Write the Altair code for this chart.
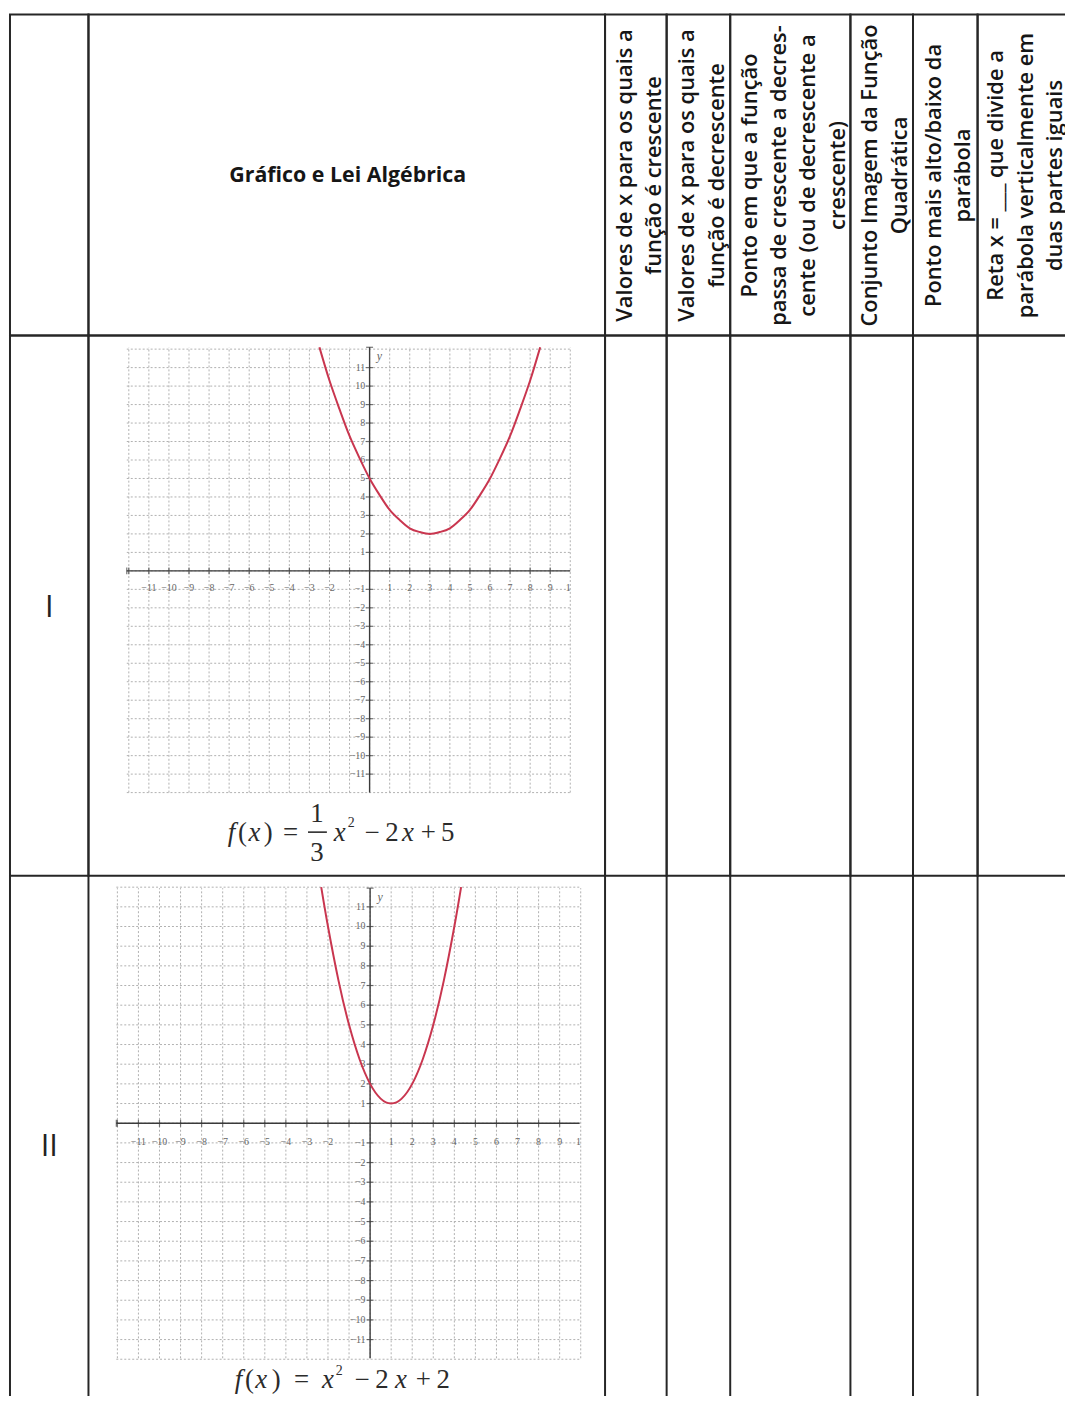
import altair as alt
import pandas as pd

# ------------------------------------------------------------------ data
ROW_LABELS = ["I", "II"]
TITLE_TEXT = "Gráfico e Lei Algébrica"
HEADERS = [
    "Valores de x para os quais a\nfunção é crescente",
    "Valores de x para os quais a\nfunção é decrescente",
    "Ponto em que a função\npassa de crescente a decres-\ncente (ou de decrescente a\ncrescente)",
    "Conjunto Imagem da Função\nQuadrática",
    "Ponto mais alto/baixo da\nparábola",
    "Reta x = ___ que divide a\nparábola verticalmente em\nduas partes iguais",
]

G1_X = [-2.5, -2.0, -1.5, -1.0, -0.5, 0.0, 0.5, 1.0, 1.5, 2.0, 2.5, 3.0,
        3.5, 4.0, 4.5, 5.0, 5.5, 6.0, 6.5, 7.0, 7.5, 8.0, 8.5]
G1_Y = [12.1, 10.3, 8.75, 7.3, 6.1, 5.0, 4.1, 3.3, 2.75, 2.3, 2.1, 2.0,
        2.1, 2.3, 2.75, 3.3, 4.1, 5.0, 6.1, 7.3, 8.75, 10.3, 12.1]
G2_X = [-2.32, -2.0, -1.5, -1.0, -0.5, 0.0, 0.5, 1.0, 1.5, 2.0, 2.5, 3.0, 3.5, 4.0, 4.32]
G2_Y = [12.0, 10.0, 7.25, 5.0, 3.25, 2.0, 1.25, 1.0, 1.25, 2.0, 3.25, 5.0, 7.25, 10.0, 12.0]

GRID_X = list(range(-12, 11))
GRID_Y = list(range(-12, 13))
X_TICKS = [-12, -11, -10, -9, -8, -7, -6, -5, -4, -3, -2, -1, 1, 2, 3, 4, 5, 6, 7, 8, 9]
Y_TICKS = [-11, -10, -9, -8, -7, -6, -5, -4, -3, -2, -1, 1, 2, 3, 4, 5, 6, 7, 8, 9, 10, 11]
X_LABEL_VALUES = [-11, -10, -9, -8, -7, -6, -5, -4, -3, -2, 1, 2, 3, 4, 5, 6, 7, 8, 9, 9.9]
X_LABEL_TEXT = ["−11", "−10", "−9", "−8", "−7", "−6", "−5", "−4", "−3", "−2",
                "1", "2", "3", "4", "5", "6", "7", "8", "9", "1"]
Y_LABEL_VALUES = [11, 10, 9, 8, 7, 6, 5, 4, 3, 2, 1, -1, -2, -3, -4, -5, -6, -7, -8, -9, -10, -11]
Y_LABEL_TEXT = ["11", "10", "9", "8", "7", "6", "5", "4", "3", "2", "1", "−1", "−2", "−3",
                "−4", "−5", "−6", "−7", "−8", "−9", "−10", "−11"]

FORMULA_1 = ["f", "(", "x", ")", "=", "1", "3", "x", "2", "−", "2", "x", "+", "5"]
FORMULA_2 = ["f", "(", "x", ")", "=", "x", "2", "−", "2", "x", "+", "2"]

# ------------------------------------------------------------------ layout / style
COL_W = [79, 520, 62, 64, 121, 63, 65, 90]
ROW_H = [323, 544, 537]
LINE = "#262626"
SW = 2
GRID = "#b0b0b0"
AXC = "#3a3a3a"
LABC = "#666666"
RED = "#c9364f"
SANS = "Open Sans"
SERIF = "Liberation Serif"
LH = 29.5

boxed = alt.ViewBackground(stroke=LINE, strokeWidth=SW)
openv = alt.ViewBackground(stroke="transparent", strokeWidth=0)
one = pd.DataFrame({"k": [0]})


def blank(w, h):
    return alt.Chart(one).mark_text(text="", fontSize=1).encode(
        x=alt.value(w / 2), y=alt.value(h / 2))


def left_edge(h):
    return alt.Chart(one).mark_rule(color=LINE, strokeWidth=SW).encode(
        x=alt.value(0), y=alt.value(0), y2=alt.value(h))


def empty_cell(w, h, edged=False):
    if edged:
        return alt.layer(blank(w, h), left_edge(h)).properties(width=w, height=h, view=openv)
    return blank(w, h).properties(width=w, height=h, view=boxed)


def header_cell(w, h, text):
    lines = text.split("\n")
    n = len(lines)
    layers = []
    for i, ln in enumerate(lines):
        layers.append(alt.Chart(one).mark_text(
            text=ln, angle=270, align="center", baseline="middle",
            font=SANS, fontWeight=600, fontSize=22, color="#161616",
        ).encode(x=alt.value(w / 2 + 3.5 + (i - (n - 1) / 2) * LH), y=alt.value(h / 2 + 0.5)))
    return alt.layer(*layers).properties(width=w, height=h, view=boxed)


def title_cell(w, h):
    return alt.Chart(pd.DataFrame({"t": [TITLE_TEXT]})).mark_text(
        font=SANS, fontWeight=700, fontSize=21.5, color="#161616", align="center", baseline="middle",
    ).encode(x=alt.value(w / 2 + 1), y=alt.value(h / 2 + 1.5), text="t:N").properties(
        width=w, height=h, view=boxed)


def roman_cell(w, h, label, ypos, edged=False):
    t = alt.Chart(pd.DataFrame({"t": [label]})).mark_text(
        font=SANS, fontSize=31, color="#222222", align="center", baseline="middle",
    ).encode(x=alt.value(w / 2), y=alt.value(ypos), text="t:N")
    if edged:
        return alt.layer(t, left_edge(h)).properties(width=w, height=h, view=openv)
    return t.properties(width=w, height=h, view=boxed)


def formula_layers(pieces, layout, bar=None):
    out = []
    for txt, (px, py, style, size) in zip(pieces, layout):
        out.append(alt.Chart(one).mark_text(
            text=txt, font=SERIF, fontSize=size, fontStyle="italic" if style == "i" else "normal",
            color="#2b2b2b", align="center", baseline="alphabetic",
        ).encode(x=alt.value(px), y=alt.value(py)))
    if bar is not None:
        x1, x2, yb = bar
        out.append(alt.Chart(one).mark_rule(color="#2b2b2b", strokeWidth=1.6).encode(
            x=alt.value(x1), x2=alt.value(x2), y=alt.value(yb)))
    return out


def graph_cell(w, h, ox, oy, kx, ky, ext, cx, cy, flayers, view, edged=False):
    xs = alt.Scale(domain=[-ox / kx, (w - ox) / kx], nice=False, zero=False)
    ys = alt.Scale(domain=[-(h - oy) / ky, oy / ky], nice=False, zero=False)
    x_min, x_max, y_min, y_max = ext

    def X(f):
        return alt.X(f + ":Q", scale=xs, axis=None)

    def Y(f):
        return alt.Y(f + ":Q", scale=ys, axis=None)

    vgrid = alt.Chart(pd.DataFrame({"g": GRID_X, "a": y_min, "b": y_max})).mark_rule(
        color=GRID, strokeWidth=1, strokeDash=[2, 2]).encode(x=X("g"), y=Y("a"), y2="b:Q")
    hgrid = alt.Chart(pd.DataFrame({"g": GRID_Y, "a": x_min, "b": x_max})).mark_rule(
        color=GRID, strokeWidth=1, strokeDash=[2, 2]).encode(y=Y("g"), x=X("a"), x2="b:Q")
    xaxis = alt.Chart(pd.DataFrame({"a": [x_min], "b": [x_max], "z": [0]})).mark_rule(
        color=AXC, strokeWidth=1.4).encode(x=X("a"), x2="b:Q", y=Y("z"))
    yaxis = alt.Chart(pd.DataFrame({"a": [y_min], "b": [y_max], "z": [0]})).mark_rule(
        color=AXC, strokeWidth=1.4).encode(y=Y("a"), y2="b:Q", x=X("z"))
    xt = alt.Chart(pd.DataFrame({"t": X_TICKS + [x_min], "z": 0})).mark_tick(
        orient="vertical", size=7, thickness=1.2, color=AXC).encode(x=X("t"), y=Y("z"))
    yt = alt.Chart(pd.DataFrame({"t": Y_TICKS + [y_max], "z": 0})).mark_tick(
        orient="horizontal", size=7, thickness=1.2, color=AXC).encode(y=Y("t"), x=X("z"))
    xl = alt.Chart(pd.DataFrame({"v": X_LABEL_VALUES, "s": X_LABEL_TEXT, "p": -0.95})).mark_text(
        font=SERIF, fontSize=10, color=LABC, align="center", baseline="middle").encode(
        x=X("v"), y=Y("p"), text="s:N")
    yl = alt.Chart(pd.DataFrame({"v": Y_LABEL_VALUES, "s": Y_LABEL_TEXT, "p": -0.22})).mark_text(
        font=SERIF, fontSize=10, color=LABC, align="right", baseline="middle").encode(
        y=Y("v"), x=X("p"), text="s:N")
    ylab = alt.Chart(pd.DataFrame({"s": ["y"], "a": [0.35], "b": [y_max - 0.45]})).mark_text(
        font=SERIF, fontSize=12, fontStyle="italic", color=LABC, align="left", baseline="middle").encode(
        x=X("a"), y=Y("b"), text="s:N")
    curve = alt.Chart(pd.DataFrame({"cx": cx, "cy": cy})).mark_line(
        color=RED, strokeWidth=2, interpolate="natural").encode(x=X("cx"), y=Y("cy"))
    layers = [vgrid, hgrid, xaxis, yaxis, xt, yt, xl, yl, ylab, curve] + flayers
    if edged:
        layers.append(left_edge(h))
    return alt.layer(*layers).properties(width=w, height=h, view=view)


F1_LAYOUT = [(144, 509, "i", 27), (155, 509, "r", 27), (167, 509, "i", 27), (181, 509, "r", 27),
             (203.5, 509, "r", 27), (230, 490, "r", 27), (230, 529, "r", 27), (253, 509, "i", 27),
             (264.5, 495, "r", 14), (285.5, 509, "r", 27), (305.5, 509, "r", 27), (321.5, 509, "i", 27),
             (342, 509, "r", 27), (361.5, 509, "r", 27)]
F2_LAYOUT = [(151, 516, "i", 27), (162, 516, "r", 27), (174, 516, "i", 27), (189, 516, "r", 27),
             (214.5, 516, "r", 27), (241, 516, "i", 27), (252.5, 502, "r", 14), (275.5, 516, "r", 27),
             (295.5, 516, "r", 27), (314.5, 516, "i", 27), (337, 516, "r", 27), (357, 516, "r", 27)]

# ------------------------------------------------------------------ cells (row by row)
cells = [
    empty_cell(COL_W[0], ROW_H[0]),
    title_cell(COL_W[1], ROW_H[0]),
    *[header_cell(COL_W[i + 2], ROW_H[0], HEADERS[i]) for i in range(6)],

    roman_cell(COL_W[0], ROW_H[1], ROW_LABELS[0], 274),
    graph_cell(COL_W[1], ROW_H[1], 283, 237, 20.2, 18.6, (-12.1, 10.0, -12.0, 12.1),
               G1_X, G1_Y, formula_layers(FORMULA_1, F1_LAYOUT, (221, 240, 500)), boxed),
    *[empty_cell(COL_W[i + 2], ROW_H[1]) for i in range(6)],

    roman_cell(COL_W[0], ROW_H[2], ROW_LABELS[1], 273, edged=True),
    graph_cell(COL_W[1], ROW_H[2], 283.5, 249, 21.2, 19.8, (-12.05, 9.95, -11.95, 11.95),
               G2_X, G2_Y, formula_layers(FORMULA_2, F2_LAYOUT), openv, edged=True),
    *[empty_cell(COL_W[i + 2], ROW_H[2], edged=True) for i in range(6)],
]

chart = alt.concat(*cells, columns=8, spacing=0, bounds="flush").properties(
    padding={"left": 1, "top": 1, "right": -3, "bottom": -19}
).configure(background="white")

chart.save("out.html", embed_options={"renderer": "svg", "actions": False})
